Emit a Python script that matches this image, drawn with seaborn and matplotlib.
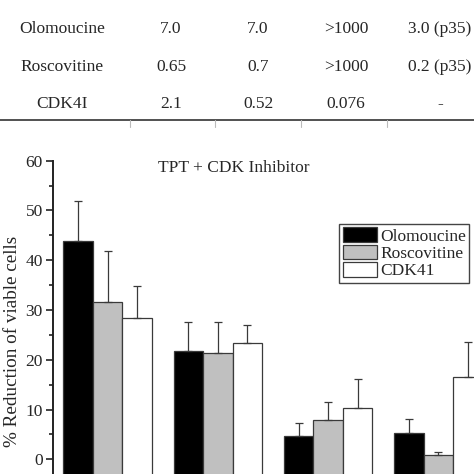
import numpy as np
import pandas as pd
import matplotlib
matplotlib.use("Agg")
import matplotlib.pyplot as plt
import seaborn as sns
from matplotlib.lines import Line2D

# ---------------- data ----------------
conditions = ["C1", "C2", "C3", "C4"]
inhibitors = ["Olomoucine", "Roscovitine", "CDK41"]
olomoucine = [43.9, 21.8, 4.7, 5.2]
olomoucine_err = [8.1, 5.8, 2.5, 2.9]
roscovitine = [31.7, 21.3, 7.9, 0.9]
roscovitine_err = [10.2, 6.3, 3.7, 0.6]
cdk41 = [28.4, 23.4, 10.4, 16.5]
cdk41_err = [6.4, 3.6, 5.8, 7.1]

table_rows = ["Olomoucine", "Roscovitine", "CDK4I"]
table_col1 = ["7.0", "0.65", "2.1"]
table_col2 = ["7.0", "0.7", "0.52"]
table_col3 = [">1000", ">1000", "0.076"]
table_col4 = ["3.0 (p35)", "0.2 (p35)", "-"]

title = "TPT + CDK Inhibitor"
ylabel = "% Reduction of viable cells"

values = {"Olomoucine": olomoucine, "Roscovitine": roscovitine, "CDK41": cdk41}
errors = {"Olomoucine": olomoucine_err, "Roscovitine": roscovitine_err, "CDK41": cdk41_err}

df = pd.DataFrame(
    [(c, h, values[h][i]) for h in inhibitors for i, c in enumerate(conditions)],
    columns=["condition", "inhibitor", "value"],
)

# ---------------- style ----------------
sns.set_style("ticks")
plt.rcParams["font.family"] = ["Liberation Serif", "DejaVu Serif"]
plt.rcParams["mathtext.default"] = "regular"

W = H = 474
fig = plt.figure(figsize=(4.74, 4.74), dpi=100)

def fx(px):
    return px / W

def fy(py):
    return 1 - py / H

FS = 12.5
ymin, ymax = -12, 60
px_per_unit = (459.3 - 160.7) / 60.0
ax_left_px = 53.3
cat_px = 110.3
xlo = -(107.5 - ax_left_px) / cat_px
xhi = xlo + 4.0
ax_top_px = 160.7
ax_h_px = (ymax - ymin) * px_per_unit
ax = fig.add_axes([fx(ax_left_px), fy(ax_top_px + ax_h_px), 4.0 * cat_px / W, ax_h_px / H])

edge = "#3a3a3a"
palette = {"Olomoucine": "#000000", "Roscovitine": "#c0c0c0", "CDK41": "#ffffff"}
sns.barplot(
    data=df, x="condition", y="value", hue="inhibitor",
    order=conditions, hue_order=inhibitors, palette=palette,
    errorbar=None, width=0.8, edgecolor=edge, linewidth=0.9,
    saturation=1, legend=True, ax=ax,
)

# extend bars down to the axis floor and add upward-only error bars
for cont, h in zip(ax.containers, inhibitors):
    xs, ys = [], []
    for bar, v in zip(cont.patches, values[h]):
        xs.append(bar.get_x() + bar.get_width() / 2)
        ys.append(v)
        bar.set_y(ymin)
        bar.set_height(v - ymin)
    err = np.array(errors[h])
    ax.errorbar(xs, ys, yerr=[np.zeros_like(err), err], fmt="none",
                ecolor=edge, elinewidth=0.9, capsize=3, capthick=0.9, zorder=1)

ax.set_xlim(xlo, xhi)
ax.set_ylim(ymin, ymax)
ax.set_yticks(np.arange(0, 61, 10))
ax.set_yticks(np.arange(5, 60, 10), minor=True)
ax.tick_params(axis="y", which="major", length=5, width=1.2, direction="out",
               labelsize=FS, pad=2.5, color="#222222")
ax.tick_params(axis="y", which="minor", length=3, width=1.2, direction="out", color="#222222")
ax.set_xticks([])
ax.set_xlabel("")
ax.set_ylabel("")
for s in ["top", "right", "bottom"]:
    ax.spines[s].set_visible(False)
ax.spines["left"].set_linewidth(1.4)
ax.spines["left"].set_color("#222222")
ax.patch.set_alpha(0)

handles, labels = ax.get_legend_handles_labels()
if ax.get_legend() is not None:
    ax.get_legend().remove()
leg = fig.legend(
    handles, labels, loc="upper left",
    bbox_to_anchor=(fx(339.3), fy(224)), bbox_transform=fig.transFigure,
    fontsize=FS, frameon=True, fancybox=False, framealpha=1,
    edgecolor="#444444", borderpad=0.2, labelspacing=0.0,
    handlelength=2.0, handleheight=0.92, handletextpad=0.15, borderaxespad=0,
)
leg.get_frame().set_linewidth(1.0)
for hnd in leg.legend_handles:
    hnd.set_edgecolor(edge)

# title and y label
fig.text(fx(234), fy(171.7), title, ha="center", va="baseline", fontsize=FS)
fig.text(fx(12.5), fy(341), ylabel, ha="center", va="center", rotation=90, fontsize=13.8)

# ---------------- table above ----------------
col_x = [61.7, 171, 258, 346, 440]
row_base = [33.3, 70.7, 108.3]
cols = [table_rows, table_col1, table_col2, table_col3, table_col4]
for cx, col in zip(col_x, cols):
    for by, txt in zip(row_base, col):
        fig.text(fx(cx), fy(by), txt, ha="center", va="baseline", fontsize=FS)

fig.add_artist(Line2D([0, 1], [fy(120), fy(120)], transform=fig.transFigure,
                      color="#333333", linewidth=1.2))
for sx in [130, 215, 301, 387]:
    fig.add_artist(Line2D([fx(sx), fx(sx)], [fy(120), fy(127)], transform=fig.transFigure,
                          color="#bbbbbb", linewidth=0.8))

fig.savefig("out.png", dpi=100)
